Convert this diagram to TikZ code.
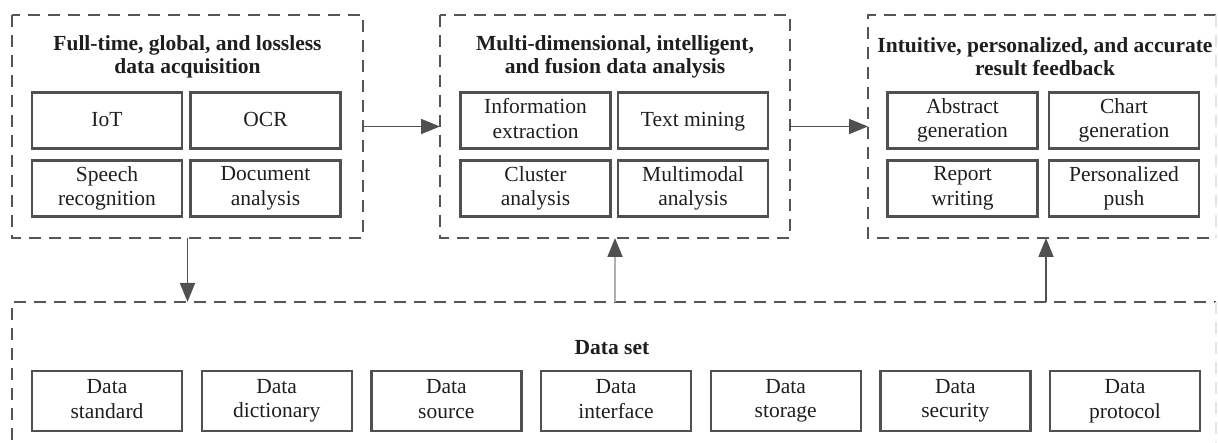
\documentclass[tikz,border=0pt]{standalone}
\usepackage{fontspec}
\setmainfont{Liberation Serif}
\usetikzlibrary{arrows.meta,calc}
\definecolor{dashgray}{HTML}{555555}
\definecolor{boxgray}{HTML}{505050}
\definecolor{txt}{HTML}{1E1E1E}
\definecolor{faint}{HTML}{E4E4E4}
\definecolor{lightline}{HTML}{B0B0B0}
\newcommand\itemstrut{\rule[-4.5pt]{0pt}{22pt}}
\begin{document}
\begin{tikzpicture}[x=1pt,y=-1pt,
  container/.style={draw=none, inner sep=0pt, outer sep=0pt},
  dashline/.style={draw=dashgray, line width=2.8pt, dash pattern=on 12pt off 8pt},
  faintline/.style={draw=faint, line width=2.4pt, dash pattern=on 12pt off 8pt},
  item/.style={draw=boxgray, line width=2.4pt, minimum width=150pt, minimum height=56pt,
    inner sep=0pt, align=center, font=\fontsize{21.5}{24.5}\selectfont, text=txt,
    execute at begin node=\itemstrut, execute at end node=\itemstrut},
  ttl/.style={font=\bfseries\fontsize{21.5}{23}\selectfont, align=center, text=txt, inner sep=0pt},
  arr/.style={draw=boxgray, line width=1.8pt, -{Triangle[length=19pt,width=15pt]}}]
\useasboundingbox (0,0) rectangle (1218,443);
\clip (0,0) rectangle (1218,443);

% containers
\node[container, minimum width=351pt, minimum height=223pt] (A) at (187.5,126.5) {};
\node[container, minimum width=350pt, minimum height=223pt] (B) at (615,126.5) {};
\node[container, minimum width=348pt, minimum height=223pt] (C) at (1042,126.5) {};
\node[container, minimum width=1204pt, minimum height=158pt] (D) at (614,381) {};

\draw[dashline] (A.north west) rectangle (A.south east);
\draw[dashline] (B.north west) rectangle (B.south east);
\draw[dashline] (C.north east) -- (C.north west) -- (C.south west) -- (C.south east);
\draw[faintline] (C.north east) -- (C.south east);
\draw[dashline] (D.south west) -- (D.north west) -- (D.north east);
\draw[faintline] (D.north east) -- (D.south east);

% titles
\node[ttl] (At) at (187.5,56.5) {Full-time, global, and lossless\\data acquisition};
\node[ttl] (Bt) at (615,56.5) {Multi-dimensional, intelligent,\\and fusion data analysis};
\node[ttl] (Ct) at (1045,56.5) {Intuitive, personalized, and accurate\\result feedback};
\node[ttl] (Dt) at (612,348) {Data set};

% inner items A
\node[item] (a1) at (107,120.5) {IoT};
\node[item] (a2) at (265.5,120.5) {OCR};
\node[item] (a3) at (107,188.5) {Speech\\recognition};
\node[item] (a4) at (265.5,188.5) {Document\\analysis};
% inner items B
\node[item] (b1) at (535.5,120.5) {Information\\extraction};
\node[item] (b2) at (693,120.5) {Text mining};
\node[item] (b3) at (535.5,188.5) {Cluster\\analysis};
\node[item] (b4) at (693,188.5) {Multimodal\\analysis};
% inner items C
\node[item] (c1) at (962.5,120.5) {Abstract\\generation};
\node[item] (c2) at (1124,120.5) {Chart\\generation};
\node[item] (c3) at (962.5,188.5) {Report\\writing};
\node[item] (c4) at (1124,188.5) {Personalized\\push};
% data set items
\node[item, minimum height=60pt] (d1) at (107,401) {Data\\standard};
\node[item, minimum height=60pt] (d2) at (276.7,401) {Data\\dictionary};
\node[item, minimum height=60pt] (d3) at (446.3,401) {Data\\source};
\node[item, minimum height=60pt] (d4) at (616,401) {Data\\interface};
\node[item, minimum height=60pt] (d5) at (785.7,401) {Data\\storage};
\node[item, minimum height=60pt] (d6) at (955.3,401) {Data\\security};
\node[item, minimum height=60pt] (d7) at (1125,401) {Data\\protocol};

% connectors
\draw[arr] (A.east) -- (B.west);
\draw[arr] (B.east) -- (C.west);
\draw[arr] (A.south) -- (A.south |- D.north);
\draw[arr, draw=lightline, -{Triangle[length=19pt,width=15pt,color=boxgray]}] (B.south |- D.north) -- (B.south);
\coordinate (cs) at ([xshift=4pt]C.south);
\draw[arr] (cs |- D.north) -- (cs);
\end{tikzpicture}
\end{document}
